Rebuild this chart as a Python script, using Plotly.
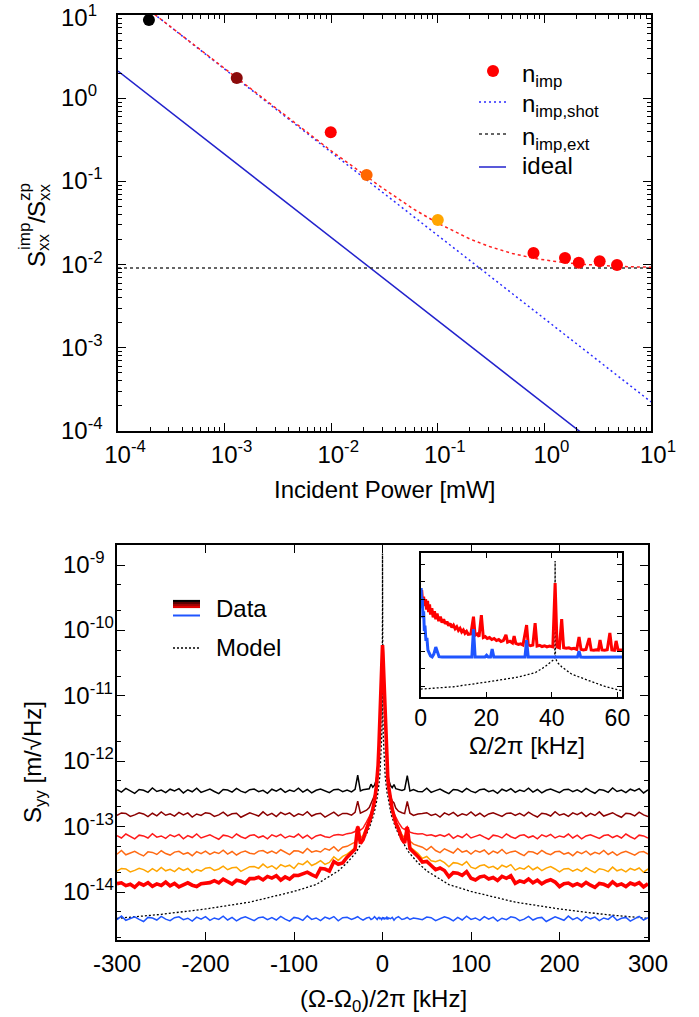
import plotly.graph_objects as go
import numpy as np

W, H = 699, 1017
FONT = "Liberation Sans, Arial, Helvetica, sans-serif"

# ---------------- top panel data ----------------
power_mw = [1.95e-4, 1.3e-3, 0.0099, 0.0215, 0.1, 0.79, 1.56, 2.1, 3.3, 4.8]
n_imp = [8.7, 1.75, 0.39, 0.119, 0.0344, 0.0138, 0.012, 0.0105, 0.011, 0.0099]
point_colors = ["#000000", "#8b0a0a", "#ff0000", "#ff6600", "#ffa500",
                "#ff0000", "#ff0000", "#ff0000", "#ff0000", "#ff0000"]

fit_power = [2.0e-4, 5e-4, 1e-3, 3e-3, 1e-2, 3e-2, 0.06, 0.1, 0.2, 0.3, 0.5, 0.8, 1.2, 2, 3, 5, 10]
fit_total = [11.2, 4.5, 2.25, 0.76, 0.233, 0.084, 0.046, 0.0315, 0.0203, 0.0166,
             0.0136, 0.0119, 0.0110, 0.0102, 0.0098, 0.0095, 0.0093]
shot_power = [1e-4, 10]
shot_level = [22.4, 2.24e-4]
ext_power = [1e-4, 10]
ext_level = [0.0091, 0.0091]
ideal_power = [1e-4, 10]
ideal_level = [2.12, 2.12e-5]

top_xtick_vals = [1e-4, 1e-3, 1e-2, 1e-1, 1, 10]
top_xtick_text = ["10<sup>-4</sup>", "10<sup>-3</sup>", "10<sup>-2</sup>",
                  "10<sup>-1</sup>", "10<sup>0</sup>", "10<sup>1</sup>"]
top_ytick_exp = [1, 0, -1, -2, -3, -4]
top_ytick_text = ["10<sup>1</sup>", "10<sup>0</sup>", "10<sup>-1</sup>",
                  "10<sup>-2</sup>", "10<sup>-3</sup>", "10<sup>-4</sup>"]

# ---------------- bottom panel data (values in 1e-15 m/sqrt(Hz)) ----------------
detuning_khz = [-300, -295, -290, -285, -280, -275, -270, -265, -260, -255, -250, -245, -240,
                -235, -230, -225, -220, -215, -210, -205, -200, -195, -190, -185, -180, -175,
                -170, -165, -160, -155, -150, -145, -140, -135, -130, -125, -120, -115, -110,
                -105, -100, -95, -90, -85, -80, -75, -70, -65, -60, -55, -50, -45,
                -40, -35, -31, -28, -25, -22, -18, -15, -13, -11, -9, -7, -6, -5, -4, -3, -2, -1, -0.5,
                0,
                0.5, 1, 2, 3, 4, 5, 6, 7, 9, 11, 13, 15, 18, 22, 25, 28, 31, 35, 40,
                45, 50, 55, 60, 65, 70, 75, 80, 85, 90, 95, 100, 105, 110, 115, 120, 125, 130,
                135, 140, 145, 150, 155, 160, 165, 170, 175, 180, 185, 190, 195, 200, 205, 210,
                215, 220, 225, 230, 235, 240, 245, 250, 255, 260, 265, 270, 275, 280, 285, 290,
                295, 300]

spec_black = [366, 337, 383, 348, 323, 369, 359, 334, 390, 344, 362, 330, 373, 351, 380, 327, 366, 341, 387, 334,
              355, 376, 344, 320, 369, 362, 337, 383, 348, 330, 366, 376, 341, 359, 323, 373, 348, 380, 334, 362,
              344, 387, 337, 369, 327, 359, 376, 348, 330, 366, 373, 341,
              362, 340, 372, 610, 352, 365, 370, 378, 445, 400, 430, 520, 650, 930, 1800, 4250, 12200, 29400, 45000,
              59600,
              45000, 29400, 12200, 4250, 1800, 930, 650, 520, 425, 395, 440, 380, 366, 358, 370, 600, 350, 368, 345,
              341, 387, 334, 355, 376, 344, 320, 369, 362, 337, 383, 348, 330, 366, 376, 341, 359, 323, 373, 348,
              380, 334, 362, 344, 387, 337, 369, 327, 359, 376, 348, 330, 366, 373, 341, 366, 337, 383, 348, 323,
              369, 359, 334, 390, 344, 362, 330, 373, 351, 380, 327, 366]
spec_darkred = [148, 162, 159, 143, 151, 163, 156, 142, 160, 146, 168, 149, 157, 145, 165, 151, 162, 140, 156, 148,
                163, 159, 143, 151, 166, 146, 157, 160, 139, 149, 163, 154, 145, 168, 148, 159, 142, 165, 152, 162,
                143, 157, 149, 169, 145, 156, 160, 140, 151, 166, 146, 159,
                158, 150, 165, 245, 160, 168, 178, 195, 228, 250, 300, 430, 580, 880, 1760, 4230, 12200, 29400, 45000,
                59600,
                45000, 29400, 12200, 4230, 1760, 880, 580, 430, 296, 245, 230, 192, 172, 163, 158, 242, 160, 148, 156,
                159, 163, 148, 156, 140, 162, 151, 165, 145, 157, 149, 168, 146, 160, 142, 156, 163, 151, 143, 159,
                162, 148, 159, 146, 166, 151, 140, 160, 156, 145, 169, 149, 157, 143, 162, 152, 165, 142, 159, 148,
                168, 145, 154, 163, 149, 139, 160, 157, 146, 166, 151, 143]
spec_red = [73, 67, 77, 70, 65, 74, 72, 67, 78, 69, 72, 66, 75, 70, 76, 65, 73, 68, 77, 67,
            71, 75, 69, 64, 74, 72, 67, 77, 70, 66, 73, 75, 68, 72, 65, 75, 70, 76, 67, 72,
            69, 77, 67, 74, 65, 72, 75, 70, 68, 74, 76, 74,
            78, 80, 84, 102, 88, 95, 118, 138, 160, 195, 260, 410, 555, 870, 1750, 4230, 12200, 29400, 45000,
            59600,
            45000, 29400, 12200, 4230, 1750, 870, 555, 410, 258, 197, 158, 136, 116, 96, 90, 100, 82, 79, 77,
            78, 73, 75, 71, 75, 71, 77, 66, 73, 68, 77, 67, 71, 75, 69, 64, 74, 72, 67, 77,
            70, 66, 73, 75, 68, 72, 65, 75, 70, 76, 67, 72, 69, 77, 67, 74, 65, 72, 75, 70,
            66, 73, 75, 68, 73, 67, 77, 70, 65, 74, 72, 67]
spec_orangered = [37.9, 43.1, 37.1, 39.5, 41.9, 38.3, 35.6, 41.1, 40.3, 37.5, 42.7, 38.7, 36.7, 40.7, 41.9, 37.9,
                  39.9, 35.9, 41.5, 38.7, 42.3, 37.6, 40.8, 38.8, 43.6, 38, 41.6, 36.8, 40.4, 42.4, 39.2, 38.1,
                  42.2, 43.1, 39.4, 42.2, 39, 44.3, 40.2, 37.3, 42.6, 42.4, 39.5, 46.2, 40.7, 42.8, 40.9, 46.2,
                  43.6, 49.2, 42.3, 48.4,
                  50, 55, 58, 80, 66, 74, 98, 122, 148, 190, 255, 405, 550, 866, 1750, 4230, 12200, 29400, 45000,
                  59600,
                  45000, 29400, 12200, 4230, 1750, 866, 550, 405, 252, 188, 150, 120, 100, 75, 67, 80, 60, 54, 51,
                  48.4, 43.7, 49.7, 43.1, 40, 45.8, 42.4, 39.5, 46.2, 40.7, 42.8, 38.1, 43.1, 40.6, 43.9, 37.7,
                  42.2, 39.4, 44.7, 38.5, 41, 42.4, 38.8, 36, 41.6, 40.8, 38, 43.2, 39.2, 37.2, 41.2, 41.9,
                  37.9, 39.9, 35.9, 41.5, 38.7, 42.3, 37.1, 40.3, 38.3, 43.1, 37.5, 41.1, 36.3, 39.9, 41.9, 38.7,
                  36.7, 40.7, 41.5, 37.9]
spec_orange = [20.9, 22.9, 22.5, 20.3, 21.4, 23.1, 22, 20.1, 22.7, 20.7, 23.8, 21.1, 22.2, 20.5, 23.3, 21.4,
               22.9, 19.8, 22, 20.9, 23.1, 23.7, 21.4, 22.5, 24.8, 21.9, 23.5, 23.9, 20.7, 22.3, 24.4, 24.5,
               23, 26.7, 23.5, 25.2, 22.5, 26.2, 24.3, 25.7, 22.8, 27.5, 26.2, 29.7, 25.4, 27.3, 30.2, 26.4,
               28.4, 34.6, 30.4, 35,
               38, 43, 48, 70, 57, 66, 92, 118, 145, 188, 253, 403, 549, 865, 1750, 4230, 12200, 29400, 45000,
               59600,
               45000, 29400, 12200, 4230, 1750, 865, 549, 403, 251, 186, 146, 116, 94, 67, 58, 72, 49, 44, 39,
               32.6, 34.9, 30.1, 29, 30.7, 28.1, 24.3, 28.1, 27.5, 25.7, 29.2, 24, 22.8, 25.2, 26, 23.5,
               24.7, 22.3, 25.7, 24, 26.2, 21.6, 23.5, 22.3, 25.1, 21.9, 23.9, 21.2, 23.2, 24.4, 22.5, 20.3,
               22.5, 22.9, 20.9, 22.5, 20.7, 23.5, 21.4, 19.8, 22.7, 22, 20.5, 24, 21.1, 22.2, 20.3, 22.9,
               21.6, 23.3, 20.1, 22.5]
spec_highpower = [13.4, 13.8, 12.5, 13.1, 11.8, 13.7, 12.7, 13.9, 12.2, 13.3, 12.6, 14.2, 12.4, 13.5, 12, 13.1,
                  13.8, 12.7, 12.1, 13.4, 13.7, 13.9, 14.9, 13.8, 15.7, 14.2, 13.2, 15.1, 14.6, 13.6, 16, 16,
                  16.8, 15.3, 17.3, 16.3, 17.7, 15.2, 17, 15.8, 18, 17.9, 19, 20.1, 18.4, 17.1, 22.9, 22.4,
                  20.9, 29.2, 26.5, 27.9,
                  34, 40, 45, 100, 55, 63, 90, 115, 143, 185, 250, 400, 547, 865, 1750, 4230, 12200, 29400, 45000,
                  59600,
                  45000, 29400, 12200, 4230, 1750, 865, 547, 400, 248, 183, 144, 113, 92, 64, 56, 98, 46, 41, 35,
                  28.8, 29.4, 25.4, 22, 23.3, 21.3, 17.1, 19.8, 19.4, 18, 20.5, 16.2, 15.3, 17, 17.5, 15.8,
                  16.7, 15, 17.3, 16.2, 17.7, 13.6, 14.8, 14.1, 15.8, 13.8, 15.1, 13.3, 14.6, 15.4, 14.2, 12.1,
                  13.4, 13.7, 12.5, 13.4, 12.4, 14, 12.7, 11.8, 13.5, 13.1, 12.2, 14.3, 12.6, 13.3, 12.1, 13.7,
                  12.9, 13.9, 12, 13.4]
spec_blue = [3.77, 4.28, 3.69, 3.93, 4.17, 3.81, 3.54, 4.09, 4.01, 3.73, 4.24, 3.85, 3.65, 4.05, 4.17, 3.77,
             3.97, 3.58, 4.13, 3.85, 4.21, 3.69, 4.01, 3.81, 4.28, 3.73, 4.09, 3.62, 3.97, 4.17, 3.85, 3.65,
             4.05, 4.13, 3.77, 4.05, 3.73, 4.24, 3.85, 3.58, 4.09, 3.97, 3.69, 4.32, 3.81, 4.01, 3.65, 4.13,
             3.89, 4.21, 3.62, 4.05,
             4.1, 3.8, 4.0, 4.2, 3.9, 3.7, 4.0, 4.1, 3.8, 3.9, 4.2, 3.9, 3.8, 4.0, 4.1, 3.9, 4.0, 3.8, 3.9,
             4.0,
             3.9, 4.1, 3.8, 4.0, 3.9, 4.2, 3.8, 4.0, 3.9, 4.1, 3.7, 4.0, 4.2, 3.8, 3.9, 4.1, 3.8, 4.0, 3.9,
             3.77, 4.13, 4.05, 3.65, 3.85, 4.17, 3.97, 3.62, 4.09, 3.73, 4.28, 3.81, 4.01, 3.69, 4.21, 3.85,
             4.13, 3.58, 3.97, 3.77, 4.17, 4.05, 3.65, 3.85, 4.24, 3.73, 4.01, 4.09, 3.54, 3.81, 4.17, 3.93,
             3.69, 4.28, 3.77, 4.05, 3.62, 4.21, 3.89, 4.13, 3.65, 4.01, 3.81, 4.32, 3.69, 3.97, 4.09, 3.58,
             3.85, 4.24, 3.73, 4.05]

model_khz = [-300, -250, -200, -150, -100, -75, -50, -40, -30, -20, -15, -10, -7, -5, -3, -2, -1, -0.5,
             -0.2, -0.1, -0.05, -0.02, -0.01, 0, 0.01, 0.02, 0.05, 0.1, 0.2, 0.5, 1, 2, 3, 5, 7, 10, 15,
             20, 30, 40, 50, 75, 100, 150, 200, 250, 300]
model_val = [3.95, 4.55, 5.5, 7.0, 10.2, 13, 21, 28, 40, 68, 95, 150, 230, 340, 600, 1000, 2200, 4500,
             11000, 22000, 45000, 110000, 220000, 1500000, 220000, 110000, 45000, 22000, 11000, 4500, 2200,
             1000, 600, 340, 230, 150, 95, 68, 40, 28, 21, 13, 10.2, 7.0, 5.5, 4.55, 3.95]

bottom_xtick_vals = [-300, -200, -100, 0, 100, 200, 300]
bottom_xtick_text = ["-300", "-200", "-100", "0", "100", "200", "300"]
bottom_ytick_exp = [-9, -10, -11, -12, -13, -14]
bottom_ytick_text = ["10<sup>-9</sup>", "10<sup>-10</sup>", "10<sup>-11</sup>",
                     "10<sup>-12</sup>", "10<sup>-13</sup>", "10<sup>-14</sup>"]

# ---------------- inset data (1e-15 m/sqrt(Hz)) ----------------
inset_red_khz = [0, 0.3, 0.6, 0.9, 1.2, 1.5, 1.8, 2.1, 2.4, 2.7, 3.0, 3.4, 3.8, 4.2, 4.6, 5.0, 5.5, 6.0, 6.5,
                 7.0, 7.5, 8.0, 8.5, 9, 9.5, 10, 10.5, 11, 11.5, 12, 12.5, 13, 13.5, 14, 14.5, 15.3, 16.1,
                 16.6, 17.2, 17.8, 18.5, 19.1, 19.7, 20.3, 21, 21.7, 22.4, 23.1, 23.8, 24.5, 25.2, 26, 26.5,
                 27.2, 28, 28.5, 29, 29.8, 30.5, 31.2, 32.3, 32.8, 33.5, 34.2, 34.9, 35.5, 36.3, 37, 37.8,
                 38.5, 39.3, 40.3, 41, 41.6, 42.3, 43, 43.6, 44.4, 45.2, 46, 46.8, 47.6, 48.3, 48.9, 49.6,
                 50.4, 51.4, 52, 52.8, 53.6, 54.2, 54.7, 55.3, 56.1, 56.9, 57.7, 58.3, 59.1, 59.6, 60.2, 61.4]
inset_red_val = [20000, 33000, 6000, 14000, 4000, 10000, 2500, 8000, 1800, 5000, 1300, 3000, 900, 2000, 700,
                 1500, 550, 1000, 450, 700, 380, 520, 300, 400, 240, 320, 200, 260, 160, 210, 130, 170, 110,
                 140, 95, 100, 975, 85, 100, 70, 1220, 62, 70, 55, 62, 48, 55, 42, 48, 37, 42, 90, 34,
                 38, 30, 75, 29, 25, 27, 23, 324, 24, 21, 23, 420, 20, 22, 19, 21, 18, 20, 18, 84400,
                 18, 16, 720, 16, 15, 16, 14, 15, 13, 66, 13, 12, 13, 58, 12, 11.5, 12.5, 12, 45, 12,
                 11.5, 12.5, 113, 12, 11.5, 40, 12, 11.9]
inset_blue_khz = [0, 0.15, 0.3, 0.5, 0.7, 0.9, 1.1, 1.3, 1.6, 1.9, 2.2, 2.6, 3.0, 3.5, 4.0, 4.6, 5.1, 5.6,
                  6.5, 8, 10, 12, 14, 15.6, 16.1, 16.6, 18, 19.6, 20.1, 20.6, 21.3, 21.8, 22.3, 25, 28, 31.8,
                  32.3, 32.8, 35, 38, 41, 43, 47.8, 48.3, 48.8, 50, 55, 61.4]
inset_blue_val = [3000, 43600, 5000, 12000, 800, 2000, 150, 300, 40, 60, 12, 8, 5.5, 4.8, 7, 17.7, 8, 5,
                  4.7, 4.8, 4.6, 4.8, 4.7, 4.7, 190, 4.8, 4.7, 4.7, 6, 4.7, 4.7, 13.7, 4.7, 4.8, 4.6, 4.7,
                  44.7, 4.7, 4.8, 4.6, 4.7, 4.8, 4.7, 10.3, 4.7, 4.6, 4.8, 4.7]
inset_model_khz = [0, 10, 20, 30, 35, 38, 40.5, 40.9, 41, 41.1, 41.5, 42, 43, 46, 51, 56, 61.4]
inset_model_val = [0.068, 0.093, 0.172, 0.34, 0.61, 1.35, 3.3, 4.1, 1.55e6, 4.1, 2.8, 2.0, 1.3, 0.5,
                   0.22, 0.1, 0.055]
inset_xtick_vals = [0, 20, 40, 60]

UNIT = 1e-15
FS = 24  # text size


def px(x):
    return x / W


def py(y):
    return 1 - y / H


for xs, ys in [(detuning_khz, spec_black), (detuning_khz, spec_darkred), (detuning_khz, spec_red),
               (detuning_khz, spec_orangered), (detuning_khz, spec_orange), (detuning_khz, spec_highpower),
               (detuning_khz, spec_blue), (model_khz, model_val), (inset_red_khz, inset_red_val),
               (inset_blue_khz, inset_blue_val), (inset_model_khz, inset_model_val)]:
    assert len(xs) == len(ys), (len(xs), len(ys))

fig = go.Figure()

# ---- top panel traces
fig.add_trace(go.Scatter(x=ideal_power, y=ideal_level, mode="lines",
                         line=dict(color="#2222cc", width=1.5), xaxis="x", yaxis="y"))
fig.add_trace(go.Scatter(x=ext_power, y=ext_level, mode="lines",
                         line=dict(color="#333333", width=1.5, dash="3px,3px"), xaxis="x", yaxis="y"))
fig.add_trace(go.Scatter(x=shot_power, y=shot_level, mode="lines",
                         line=dict(color="#2a2aff", width=1.5, dash="2px,3px"), xaxis="x", yaxis="y"))
fig.add_trace(go.Scatter(x=fit_power, y=fit_total, mode="lines",
                         line=dict(color="#ff2020", width=1.5, dash="3px,3px"), xaxis="x", yaxis="y"))
fig.add_trace(go.Scatter(x=power_mw, y=n_imp, mode="markers",
                         marker=dict(color=point_colors, size=12, line=dict(width=0)),
                         xaxis="x", yaxis="y"))


# ---- bottom panel traces
def us(v):
    return [a * UNIT for a in v]


fig.add_trace(go.Scatter(x=model_khz, y=us(model_val), mode="lines",
                         line=dict(color="#000000", width=1.3, dash="2px,2px"), xaxis="x2", yaxis="y2"))
spec_styles = [(spec_blue, "#1f55ff", 1.5), (spec_black, "#000000", 1.5), (spec_darkred, "#8b0000", 1.5),
               (spec_red, "#ff1a1a", 1.5), (spec_orangered, "#ff6a13", 1.5), (spec_orange, "#ffa500", 1.5),
               (spec_highpower, "#ff0000", 3.6)]
for vals, col, wd in spec_styles:
    fig.add_trace(go.Scatter(x=detuning_khz, y=us(vals), mode="lines",
                             line=dict(color=col, width=wd), xaxis="x2", yaxis="y2"))

# ---- inset traces
fig.add_trace(go.Scatter(x=inset_model_khz, y=us(inset_model_val), mode="lines",
                         line=dict(color="#000000", width=1.3, dash="2px,2px"), xaxis="x3", yaxis="y3"))
fig.add_trace(go.Scatter(x=inset_red_khz, y=us(inset_red_val), mode="lines",
                         line=dict(color="#ff0000", width=3), xaxis="x3", yaxis="y3"))
fig.add_trace(go.Scatter(x=inset_blue_khz, y=us(inset_blue_val), mode="lines",
                         line=dict(color="#1f55ff", width=3), xaxis="x3", yaxis="y3"))

axis_common = dict(showline=True, linecolor="#000000", linewidth=1.5, mirror="allticks",
                   ticks="inside", tickcolor="#000000", showgrid=False, zeroline=False, automargin=False,
                   tickfont=dict(family=FONT, size=FS, color="#000000"))

fig.update_layout(
    template="none",
    width=W, height=H, autosize=False, showlegend=False,
    margin=dict(l=0, r=0, t=0, b=0, pad=0),
    paper_bgcolor="white", plot_bgcolor="white",
    font=dict(family=FONT, size=FS, color="#000000"),
    xaxis=dict(axis_common, type="log", range=[-4, 1], domain=[px(118), px(651)], anchor="y",
               tickmode="array", tickvals=top_xtick_vals, ticktext=top_xtick_text, ticklen=8, tickwidth=1.2,
               ticklabelshift=7, ticklabelstandoff=1,
               minor=dict(ticks="inside", ticklen=4, tickwidth=1, tickcolor="#000000", dtick="D1")),
    yaxis=dict(axis_common, type="log", range=[-4, 1], domain=[py(431), py(15)], anchor="x",
               dtick=1, showticklabels=False, ticklen=8, tickwidth=1.2,
               minor=dict(ticks="inside", ticklen=4, tickwidth=1, tickcolor="#000000", dtick="D1")),
    xaxis2=dict(axis_common, range=[-300, 300], domain=[px(117), px(648)], anchor="y2",
                tickmode="array", tickvals=bottom_xtick_vals, ticktext=bottom_xtick_text,
                ticklen=8, tickwidth=1.2, ticklabelstandoff=1),
    yaxis2=dict(axis_common, type="log", range=[-14.734, -8.694], domain=[py(940), py(545)], anchor="x2",
                dtick=1, showticklabels=False, ticklen=8, tickwidth=1.2,
                minor=dict(ticks="inside", ticklen=4, tickwidth=1, tickcolor="#000000", dtick="D2")),
    xaxis3=dict(axis_common, range=[0, 61.4], domain=[px(420.7), px(622)], anchor="y3",
                tickmode="array", tickvals=inset_xtick_vals, ticklen=5, tickwidth=1, ticklabelstandoff=0,
                tickfont=dict(family=FONT, size=23, color="#000000")),
    yaxis3=dict(axis_common, type="log", range=[-16.62, -8.35], domain=[py(697), py(553)], anchor="x3",
                dtick=1, showticklabels=False, ticklen=5, tickwidth=1),
)

ann = []
txt = dict(family=FONT, size=FS, color="#000000")
for e, t in zip(top_ytick_exp, top_ytick_text):
    ann.append(dict(x=px(59), y=e, xref="paper", yref="y", text=t, showarrow=False,
                    xanchor="left", yanchor="middle", yshift=(-1 if e == 1 else 2), font=txt))
for e, t in zip(bottom_ytick_exp, bottom_ytick_text):
    ann.append(dict(x=px(61), y=e, xref="paper", yref="y2", text=t, showarrow=False,
                    xanchor="left", yanchor="middle", yshift=2, font=txt))

big = dict(family=FONT, size=FS, color="#000000")
small = dict(family=FONT, size=17, color="#000000")


def piece(x, y, t, f):
    ann.append(dict(x=px(x), y=py(y), xref="paper", yref="paper", text=t, showarrow=False,
                    textangle=-90, xanchor="center", yanchor="middle", font=f))


# stacked y-axis title of top panel
piece(36, 259, "S", big)
piece(24, 237, "imp", small)
piece(44, 242, "xx", small)
piece(36, 220, "/", big)
piece(36, 209, "S", big)
piece(24, 192, "zp", small)
piece(44, 192, "xx", small)

ann.append(dict(x=px(385), y=py(489), xref="paper", yref="paper", text="Incident Power [mW]",
                showarrow=False, xanchor="center", yanchor="middle", font=big))
ann.append(dict(x=px(34), y=py(762), xref="paper", yref="paper", text="S<sub>yy</sub> [m/√Hz]",
                showarrow=False, xanchor="center", yanchor="middle", textangle=-90, font=big))
ann.append(dict(x=px(383), y=py(1000), xref="paper", yref="paper", text="(Ω-Ω<sub>0</sub>)/2π [kHz]",
                showarrow=False, xanchor="center", yanchor="middle", font=big))
ann.append(dict(x=px(527), y=py(745), xref="paper", yref="paper", text="Ω/2π [kHz]",
                showarrow=False, xanchor="center", yanchor="middle", font=big))

# top legend
leg_text = [("n<sub>imp</sub>", 75), ("n<sub>imp,shot</sub>", 106), ("n<sub>imp,ext</sub>", 138), ("ideal", 166)]
for t, yy in leg_text:
    ann.append(dict(x=px(520), y=py(yy), xref="paper", yref="paper", text=t, showarrow=False,
                    xanchor="left", yanchor="middle", font=big))
# bottom legend
ann.append(dict(x=px(214), y=py(608), xref="paper", yref="paper", text="Data", showarrow=False,
                xanchor="left", yanchor="middle", font=big))
ann.append(dict(x=px(214), y=py(647), xref="paper", yref="paper", text="Model", showarrow=False,
                xanchor="left", yanchor="middle", font=big))

shapes = []
shapes.append(dict(type="circle", xref="paper", yref="paper", x0=px(487), x1=px(499), y0=py(77), y1=py(65),
                   fillcolor="#ff0000", line=dict(width=0)))
shapes.append(dict(type="line", xref="paper", yref="paper", x0=px(479), x1=px(506), y0=py(102), y1=py(102),
                   line=dict(color="#2a2aff", width=1.5, dash="2px,3px")))
shapes.append(dict(type="line", xref="paper", yref="paper", x0=px(479), x1=px(506), y0=py(134), y1=py(134),
                   line=dict(color="#333333", width=1.5, dash="3px,3px")))
shapes.append(dict(type="line", xref="paper", yref="paper", x0=px(479), x1=px(506), y0=py(167), y1=py(167),
                   line=dict(color="#2222cc", width=1.5)))
for yy, col in [(601, "#000000"), (603, "#5a0000"), (605, "#a00000"), (607, "#e00000")]:
    shapes.append(dict(type="line", xref="paper", yref="paper", x0=px(173), x1=px(200), y0=py(yy), y1=py(yy),
                       line=dict(color=col, width=2.2)))
shapes.append(dict(type="line", xref="paper", yref="paper", x0=px(173), x1=px(200), y0=py(615.5), y1=py(615.5),
                   line=dict(color="#1f55ff", width=2)))
shapes.append(dict(type="line", xref="paper", yref="paper", x0=px(173), x1=px(200), y0=py(648), y1=py(648),
                   line=dict(color="#000000", width=1.3, dash="2px,2px")))

fig.update_layout(annotations=ann, shapes=shapes)
fig.write_html("out.html", config={"displayModeBar": False},
               post_script="document.body.style.margin='0';")
